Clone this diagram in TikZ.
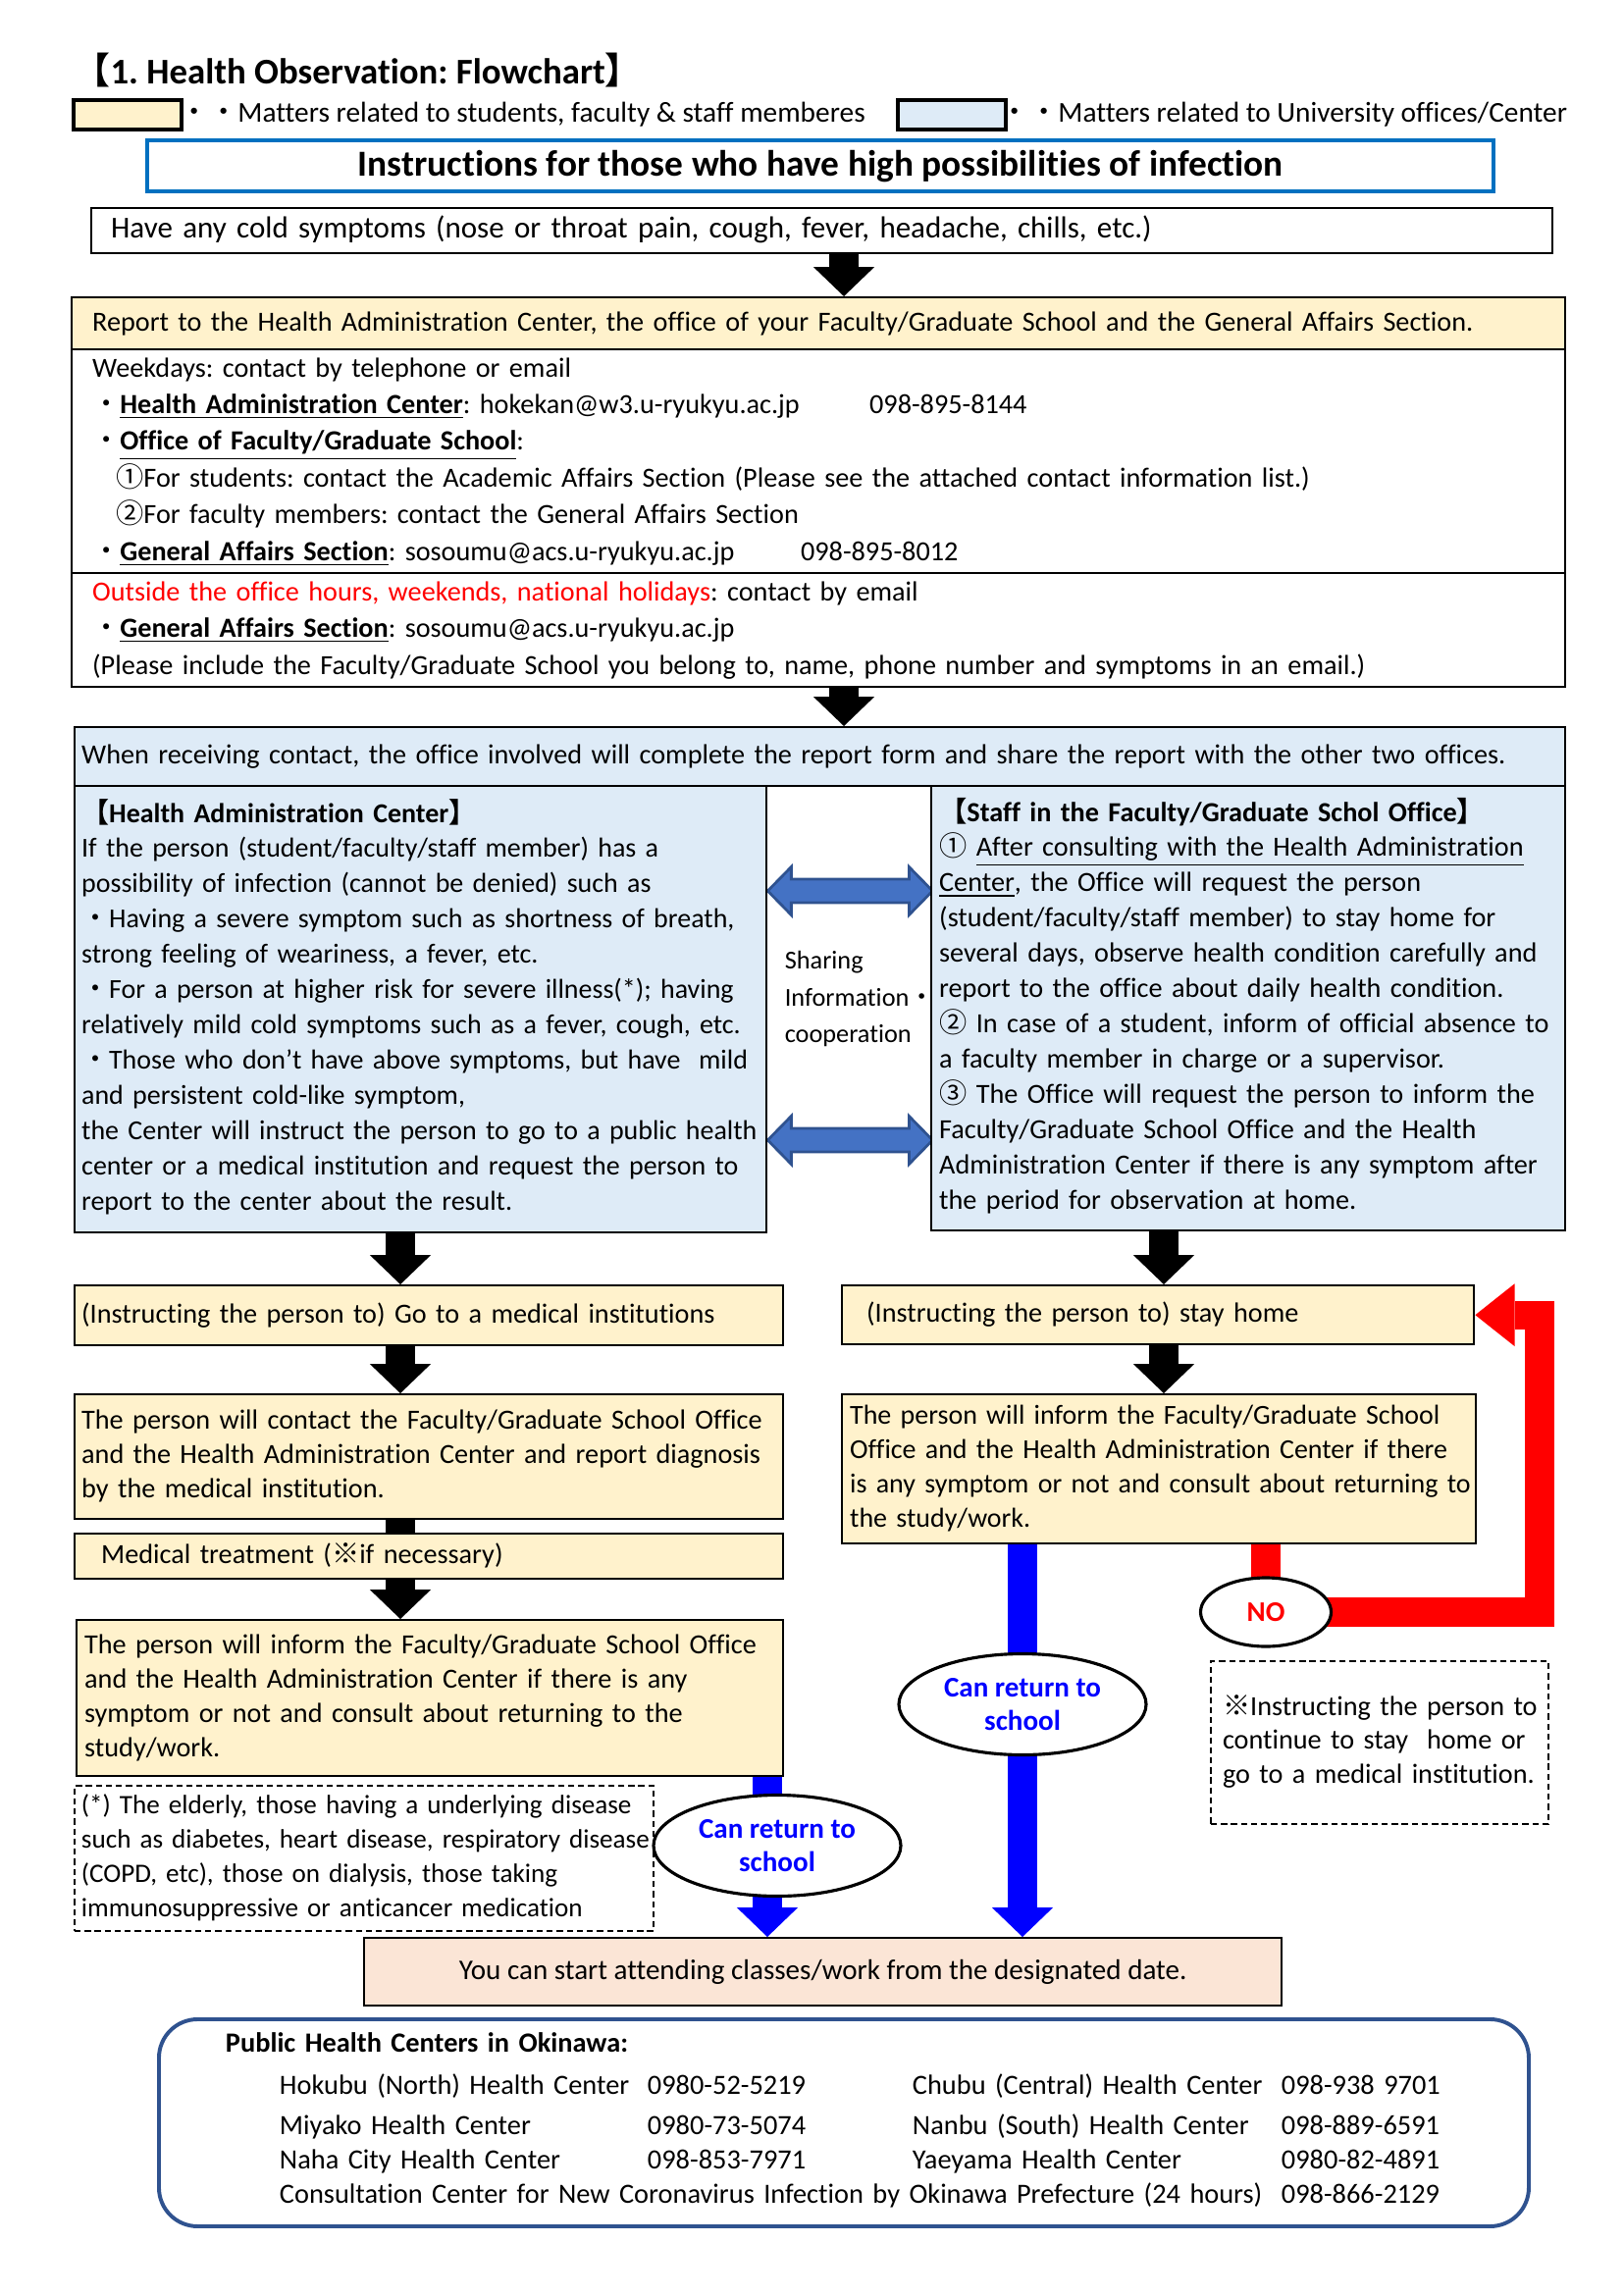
\documentclass[tikz,border=0pt]{standalone}
\usepackage{fontspec}
\setmainfont{Carlito}[Ligatures=CommonOff]
\newfontfamily\cjk{Noto Sans CJK JP}
\newcommand{\jsym}[1]{{\cjk #1}}
\newcommand{\obslines}[1]{\begin{tabular}{@{}l@{}}#1\end{tabular}}
\frenchspacing
\usetikzlibrary{arrows.meta,shapes.geometric,positioning,calc,backgrounds}
\newlength{\pxu}
\setlength{\pxu}{0.127mm}
\definecolor{stuyellow}{HTML}{FFF2CC}
\definecolor{offblue}{HTML}{DEEBF7}
\definecolor{peach}{HTML}{FBE5D6}
\definecolor{titleblue}{HTML}{0070C0}
\definecolor{arrowblue}{HTML}{4472C4}
\definecolor{arrowedge}{HTML}{2F528F}
\tikzset{
  obsbox/.style={
    rectangle, draw=black, line width=0.3mm, anchor=north west,
    align=left, inner xsep=7\pxu, inner ysep=0pt,
    font=\fontsize{10.2}{13.5}\selectfont
  },
  obsstudent/.style={obsbox, fill=stuyellow},
  obsoffice/.style={obsbox, fill=offblue},
  obsplain/.style={obsbox, fill=white},
  obsnote/.style={obsbox, dash pattern=on 0.8mm off 0.5mm, line width=0.25mm},
  obsround/.style={
    ellipse, draw=black, line width=0.4mm, fill=white, inner sep=0pt,
    align=center, font=\fontsize{10.5}{12.6}\selectfont\bfseries
  },
  obslegend/.style={rectangle, draw=black, line width=0.45mm, anchor=north west,
    minimum width=110\pxu, minimum height=30\pxu},
  obsarrow/.style={draw=black, line width=3.8mm,
    -{Triangle[width=7.9mm,length=3.8mm,line width=0pt]}},
  obsstem/.style={draw=black, line width=3.8mm},
  backarrow/.style={draw=blue, line width=3.8mm,
    -{Triangle[width=7.9mm,length=3.8mm,line width=0pt]}},
  stayarrow/.style={draw=red, line width=3.7mm,
    -{Triangle[width=8.1mm,length=5.1mm,line width=0pt]}},
  stayline/.style={draw=red, line width=3.9mm},
  sharearrow/.style={draw=arrowedge, fill=arrowblue, line width=0.35mm},
}

\begin{document}
\begin{tikzpicture}[x=0.127mm, y=-0.127mm]
  \useasboundingbox (0,0) rectangle (1654,2339);

  % heading and legend
  \node (title) [anchor=west, font=\fontsize{13.3}{16}\selectfont\bfseries] at (66,72)
    {\jsym{【}1. Health Observation: Flowchart\jsym{】}};
  \node (legstu) [obslegend, fill=stuyellow] at (73,100) {};
  \node (legstutext) [anchor=west, font=\fontsize{10.6}{13.5}\selectfont] at (174,117)
    {\jsym{・・}Matters related to students, faculty \& staff memberes};
  \node (legoff) [obslegend, fill=offblue] at (913,100) {};
  \node (legofftext) [anchor=west, font=\fontsize{10.6}{13.5}\selectfont] at (1010,117)
    {\jsym{・・}Matters related to University offices/Center};
  \node (instr) [rectangle, draw=titleblue, line width=0.55mm, anchor=north west,
    minimum width=1372\pxu, minimum height=52\pxu,
    font=\fontsize{13.5}{16}\selectfont\bfseries] at (148,141)
    {Instructions for those who have high possibilities of infection};

  % symptoms and reporting
  \node (cold) [obsplain, font=\fontsize{11.2}{13.5}\selectfont, inner xsep=20\pxu, text width=1449\pxu, minimum height=46\pxu] at (92,211)
    {\obslines{Have any cold symptoms (nose or throat pain, cough, fever, headache, chills, etc.)}};
  \node (rephead) [obsstudent, inner xsep=21\pxu, text width=1480\pxu, minimum height=53\pxu] at (72,302)
    {\obslines{Report to the Health Administration Center, the office of your Faculty/Graduate School and the General Affairs Section.}};
  \node (repweek) [obsplain, inner xsep=21\pxu, text width=1480\pxu, minimum height=228\pxu] at (72,355)
    {\obslines{Weekdays: contact by telephone or email\\
     \makebox[792\pxu][l]{\jsym{・}\underline{\textbf{Health Administration Center}}: hokekan@w3.u-ryukyu.ac.jp}098-895-8144\\
     \jsym{・}\underline{\textbf{Office of Faculty/Graduate School}}:\\
     \hspace*{24\pxu}\jsym{①}For students: contact the Academic Affairs Section (Please see the attached contact information list.)\\
     \hspace*{24\pxu}\jsym{②}For faculty members: contact the General Affairs Section\\
     \makebox[722\pxu][l]{\jsym{・}\underline{\textbf{General Affairs Section}}: sosoumu@acs.u-ryukyu.ac.jp}098-895-8012}};
  \node (repout) [obsplain, inner xsep=21\pxu, text width=1480\pxu, minimum height=116\pxu] at (72,583)
    {\obslines{{\color{red}Outside the office hours, weekends, national holidays}: contact by email\\
     \jsym{・}\underline{\textbf{General Affairs Section}}: sosoumu@acs.u-ryukyu.ac.jp\\
     (Please include the Faculty/Graduate School you belong to, name, phone number and symptoms in an email.)}};
  \coordinate (mcol) at (860,0);

  % offices
  \node (recv) [obsoffice, text width=1505\pxu, minimum height=60\pxu] at (75,740)
    {\obslines{When receiving contact, the office involved will complete the report form and share the report with the other two offices.}};
  \node (hac) [obsoffice, font=\fontsize{10.1}{13}\selectfont, text width=691\pxu, minimum height=455\pxu] at (75,800)
    {\obslines{\textbf{\jsym{【}Health Administration Center\jsym{】}}\\
     If the person (student/faculty/staff member) has a\\
     possibility of infection (cannot be denied) such as\\
     \jsym{・}Having a severe symptom such as shortness of breath,\\
     strong feeling of weariness, a fever, etc.\\
     \jsym{・}For a person at higher risk for severe illness(*); having\\
     relatively mild cold symptoms such as a fever, cough, etc.\\
     \jsym{・}Those who don't have above symptoms, but have\ \ mild\\
     and persistent cold-like symptom,\\
     the Center will instruct the person to go to a public health\\
     center or a medical institution and request the person to\\
     report to the center about the result.}};
  \node (fso) [obsoffice, font=\fontsize{10.2}{13}\selectfont, inner xsep=8\pxu, text width=630\pxu, minimum height=453\pxu] at (948,800)
    {\obslines{\textbf{\jsym{【}Staff in the Faculty/Graduate Schol Office\jsym{】}}\\
     \jsym{①} \underline{After consulting with the Health Administration}\\
     \underline{Center}, the Office will request the person\\
     (student/faculty/staff member) to stay home for\\
     several days, observe health condition carefully and\\
     report to the office about daily health condition.\\
     \jsym{②} In case of a student, inform of official absence to\\
     a faculty member in charge or a supervisor.\\
     \jsym{③} The Office will request the person to inform the\\
     Faculty/Graduate School Office and the Health\\
     Administration Center if there is any symptom after\\
     the period for observation at home.}};
  \node (share) [anchor=west, align=left, font=\fontsize{9.5}{13.7}\selectfont] at (790,1018)
    {Sharing\\Information\jsym{・}\\cooperation};
  \coordinate (shareup) at ($(hac.north east)+(0,108)$);
  \coordinate (sharedown) at ($(hac.north east)+(0,362)$);
  \coordinate (lcol) at (408,0);
  \coordinate (rcol) at (1186,0);
  \coordinate (lret) at (782,0);

  % left column
  \node (medi) [obsstudent, text width=708\pxu, minimum height=61\pxu] at (75,1309)
    {\obslines{(Instructing the person to) Go to a medical institutions}};
  \node (contact) [obsstudent, font=\fontsize{10.2}{12.7}\selectfont, text width=708\pxu, minimum height=127\pxu] at (75,1420)
    {\obslines{The person will contact the Faculty/Graduate School Office\\
     and the Health Administration Center and report diagnosis\\
     by the medical institution.}};
  \node (treat) [obsstudent, inner xsep=27\pxu, text width=668\pxu, minimum height=46\pxu] at (75,1562)
    {\obslines{Medical treatment (\jsym{※}if necessary)}};
  \node (inform2) [obsstudent, font=\fontsize{10.2}{12.7}\selectfont, inner xsep=8\pxu, text width=704\pxu, minimum height=159\pxu] at (77,1650)
    {\obslines{The person will inform the Faculty/Graduate School Office\\
     and the Health Administration Center if there is any\\
     symptom or not and consult about returning to the\\
     study/work.}};
  \node (foot) [obsnote, font=\fontsize{9.8}{12.6}\selectfont, text width=576\pxu, minimum height=148\pxu] at (75,1819)
    {\obslines{(*) The elderly, those having a underlying disease\\
     such as diabetes, heart disease, respiratory disease\\
     (COPD, etc), those on dialysis, those taking\\
     immunosuppressive or anticancer medication}};
  \node (ret1) [obsround, text=blue, minimum width=252\pxu, minimum height=103\pxu] at (792,1881)
    {Can return to\\school};

  % right column
  \node (stay) [obsstudent, inner xsep=25\pxu, text width=594\pxu, minimum height=60\pxu] at (857,1309)
    {\obslines{(Instructing the person to) stay home}};
  \node (inform3) [obsstudent, font=\fontsize{10.1}{12.7}\selectfont, inner xsep=8\pxu, text width=630\pxu, minimum height=152\pxu] at (857,1420)
    {\obslines{The person will inform the Faculty/Graduate School\\
     Office and the Health Administration Center if there\\
     is any symptom or not and consult about returning to\\
     the study/work.}};
  \node (ret2) [obsround, text=blue, minimum width=252\pxu, minimum height=103\pxu] at (1042,1737)
    {Can return to\\school};
  \node (no) [obsround, text=red, minimum width=133\pxu, minimum height=70\pxu] at (1290,1643) {NO};
  \node (note) [obsnote, font=\fontsize{10.2}{12.6}\selectfont, inner xsep=12\pxu, text width=320\pxu, minimum height=166\pxu] at (1233,1692)
    {\obslines{\jsym{※}Instructing the person to\\
     continue to stay\ \ home or\\
     go to a medical institution.}};

  % result and contacts
  \node (final) [obsbox, fill=peach, align=center, font=\fontsize{10.5}{13.5}\selectfont,
    minimum width=935\pxu, minimum height=69\pxu] at (370,1974)
    {You can start attending classes/work from the designated date.};
  \node (phc) [rectangle, rounded corners=5mm, draw=arrowedge, line width=0.5mm, anchor=north west,
    align=left, inner xsep=68\pxu, text width=1260\pxu, minimum height=211\pxu,
    font=\fontsize{10.25}{12.6}\selectfont] at (160,2056)
    {\textbf{Public Health Centers in Okinawa:}\\[1mm]
     \hspace*{55\pxu}\begin{tabular}[t]{@{}p{375\pxu}@{}p{270\pxu}@{}p{376\pxu}@{}l@{}}
       Hokubu (North) Health Center & 0980-52-5219 & Chubu (Central) Health Center & 098-938 9701\\[0.8mm]
       Miyako Health Center & 0980-73-5074 & Nanbu (South) Health Center & 098-889-6591\\
       Naha City Health Center & 098-853-7971 & Yaeyama Health Center & 0980-82-4891\\
       \multicolumn{3}{@{}l@{}}{Consultation Center for New Coronavirus Infection by Okinawa Prefecture (24 hours)} & 098-866-2129
     \end{tabular}};

  \begin{scope}[on background layer]
    \draw[obsarrow] (cold.south -| mcol) -- (rephead.north -| mcol);
    \draw[obsarrow] (repout.south -| mcol) -- (recv.north -| mcol);
    \draw[sharearrow] (shareup) -- ++(24,-24.5) -- ++(0,12.5) -- ++(120,0) -- ++(0,-12.5) -- ++(24,24.5)
      -- ++(-24,24.5) -- ++(0,-12.5) -- ++(-120,0) -- ++(0,12.5) -- cycle;
    \draw[sharearrow] (sharedown) -- ++(24,-24.5) -- ++(0,12.5) -- ++(120,0) -- ++(0,-12.5) -- ++(24,24.5)
      -- ++(-24,24.5) -- ++(0,-12.5) -- ++(-120,0) -- ++(0,12.5) -- cycle;
    \draw[obsarrow] (hac.south -| lcol) -- (medi.north -| lcol);
    \draw[obsarrow] (medi.south -| lcol) -- (contact.north -| lcol);
    \draw[obsstem] (contact.south -| lcol) -- (treat.north -| lcol);
    \draw[obsarrow] (treat.south -| lcol) -- (inform2.north -| lcol);
    \draw[obsarrow] (fso.south -| rcol) -- (stay.north -| rcol);
    \draw[obsarrow] (stay.south -| rcol) -- (inform3.north -| rcol);
    \draw[backarrow] (inform2.south -| lret) -- (final.north -| lret);
    \draw[backarrow] (inform3.south -| ret2) -- (final.north -| ret2);
    \draw[stayline] (inform3.south -| no) -- (no.center);
    \draw[stayarrow] (no.center) -- ++(279,0) |- (stay.east);
  \end{scope}
\end{tikzpicture}
\end{document}
